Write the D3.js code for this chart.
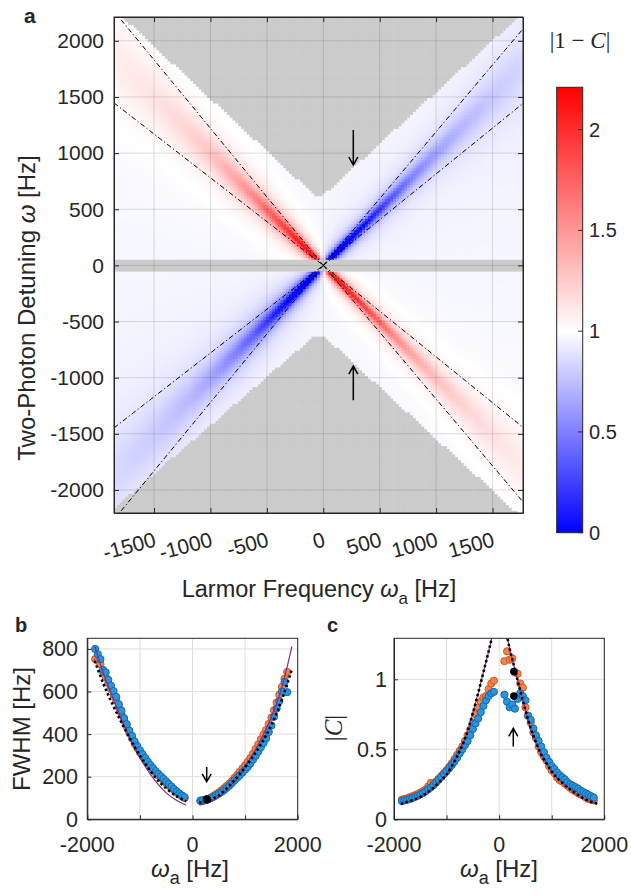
<!DOCTYPE html>
<html><head><meta charset="utf-8">
<script src="https://cdn.jsdelivr.net/npm/d3@7"></script>
<style>
body{margin:0;background:#fff}
svg{display:block}
text{font-family:"Liberation Sans",Arial,Helvetica,sans-serif;fill:#262626}
</style>
</head><body>
<svg id="chart" width="631" height="895"></svg>
<script>
// ================= DATA =================
// Panel a : heat map |1 - C| versus Larmor frequency and two-photon detuning
const larmorTicks   = [-1500,-1000,-500,0,500,1000,1500];
const detuningTicks = [-2000,-1500,-1000,-500,0,500,1000,1500,2000];
const colorbarTicks = [0,0.5,1,1.5,2];
const larmorDomain   = [-1855,1770];
const detuningDomain = [-2205,2212];
const colorDomain    = [0,1,2.21];
const cellStep = 25;                       // Hz per heat-map cell
// band profile (ω = -ωa red, ω = +ωa blue)
const heatKnotsLarmor = [-1855,-1500,-1200,-1000,-800,-600,-400,-300,-200,-100,0,100,200,300,400,600,800,1000,1200,1500,1770];
const heatRedAmp      = [0.12,0.17,0.24,0.32,0.45,0.63,0.9,1.05,1.2,1.3,1.4,1.3,1.2,1.07,0.92,0.65,0.46,0.34,0.26,0.18,0.13];
const heatBlueAmp     = [0.12,0.17,0.24,0.32,0.45,0.63,0.9,1.05,1.2,1.3,1.4,1.3,1.2,1.07,0.92,0.65,0.46,0.34,0.26,0.18,0.13];
const heatWidth       = [800,560,420,330,265,205,155,135,115,95,85,88,92,98,108,140,185,235,300,440,640];
const heatBackground  = 0.965;
// measured area (outside is grey)
const maskLarmor = [-1855,-74,0,1770];
const maskUpper  = [2284,625,628,2252];
const maskLower  = [-2160,-620,-620,-2248];
const gapBand    = [-55,50];
// dash-dot guide lines  ω = ±k ωa
const guideSlopesLeft  = [0.78,1.22];
const guideSlopesRight = [0.815,1.19];
// arrows  [larmor, tail, tip]
const arrowsA = [[266,1206,894],[266,-1200,-897]];

// Panel b : FWHM [Hz]
const bLarmorLeft  = [-1850,-1800,-1750,-1700,-1650,-1600,-1550,-1500,-1450,-1400,-1350,-1300,-1250,-1200,-1150,-1100,-1050,-1000,-950,-900,-850,-800,-750,-700,-650,-600,-550,-500,-450,-400,-350,-300,-250,-200,-150];
const bBlueLeft    = [800,775,752,702,690,655,628,602,575,540,510,475,447,416,392,366,344,324,306,288,271,255,240,226,214,202,190,178,166,154,142,131,121,112,104];
const bOrangeLeft  = [752,745,728,690,668,640,612,585,558,525,495,462,435,405,380,355,334,314,296,278,262,247,232,218,206,194,182,170,158,147,136,126,116,108,100];
const bLarmorRight = [150,200,250,300,350,400,450,500,550,600,650,700,750,800,850,900,950,1000,1050,1100,1150,1200,1250,1300,1350,1400,1450,1500,1550,1600,1650,1700,1750,1800];
const bBlueRight   = [88,90,92,95,100,106,113,120,128,137,147,158,170,183,195,207,220,233,246,262,280,298,318,338,358,380,410,440,482,520,555,600,645,597];
const bOrangeRight = [86,88,92,96,102,110,118,126,136,146,157,168,181,195,209,224,239,254,270,288,308,330,352,376,398,420,448,478,512,548,585,622,660,692];
const bHighlightLarmor = [270,280];
const bHighlightFWHM   = [95,92];
const bTheoryLarmorLeft  = [-1860,-1700,-1500,-1300,-1100,-900,-700,-500,-300,-120];
const bDottedLeft        = [745,640,530,430,340,262,195,145,108,85];
const bPurpleLeft        = [815,690,560,440,335,248,178,124,88,66];
const bTheoryLarmorRight = [130,300,500,700,900,1100,1300,1500,1700,1890];
const bDottedRight       = [78,88,113,158,213,278,352,442,562,705];
const bPurpleRight       = [66,78,105,150,210,285,375,480,620,812];
const bArrow = [270,246,176];

// Panel c : |C|
const cLarmorLeft  = [-1850,-1800,-1750,-1700,-1650,-1600,-1550,-1500,-1450,-1400,-1350,-1300,-1250,-1200,-1150,-1100,-1050,-1000,-950,-900,-850,-800,-750,-700,-650,-600,-550,-500,-450,-400,-350,-300,-250,-200,-150,-100];
const cBlueLeft    = [0.13,0.135,0.14,0.145,0.152,0.16,0.168,0.178,0.188,0.2,0.215,0.228,0.243,0.262,0.282,0.303,0.323,0.343,0.365,0.388,0.413,0.44,0.47,0.5,0.53,0.56,0.6,0.645,0.685,0.72,0.765,0.81,0.85,0.88,0.9,0.91];
const cOrangeLeft  = [0.14,0.145,0.15,0.158,0.165,0.172,0.18,0.19,0.2,0.212,0.235,0.26,0.255,0.27,0.29,0.31,0.33,0.35,0.375,0.4,0.43,0.46,0.49,0.52,0.56,0.6,0.64,0.69,0.75,0.8,0.84,0.87,0.88,0.93,0.97,0.99];
const cLarmorRight = [100,150,200,250,300,350,400,450,500,550,600,650,700,750,800,850,900,950,1000,1050,1100,1150,1200,1250,1300,1350,1400,1450,1500,1550,1600,1650,1700,1750,1800];
const cOrangeRight = [1.13,1.2,1.14,1.15,1.05,1.04,0.97,0.94,0.8,0.74,0.69,0.62,0.58,0.52,0.48,0.45,0.42,0.38,0.35,0.33,0.3,0.28,0.27,0.255,0.24,0.225,0.21,0.2,0.188,0.178,0.168,0.155,0.145,0.14,0.135];
const cBlueRight   = [0.89,0.84,0.8,0.82,0.79,0.86,0.9,0.88,0.85,0.74,0.71,0.65,0.6,0.56,0.52,0.48,0.44,0.41,0.38,0.36,0.335,0.315,0.3,0.285,0.265,0.25,0.24,0.23,0.22,0.205,0.195,0.185,0.175,0.165,0.155];
const cHighlightLarmor = [280,280];
const cHighlightC      = [1.055,0.88];
const cTheoryLarmorLeft  = [-1870,-1700,-1500,-1300,-1100,-1000,-900,-800,-700,-600,-500,-400,-300,-200,-100];
const cTheoryLeft        = [0.11,0.13,0.16,0.21,0.28,0.32,0.38,0.45,0.53,0.63,0.76,0.9,1.05,1.2,1.36];
const cTheoryLarmorRight = [120,200,300,400,500,600,700,800,900,1000,1200,1400,1600,1870];
const cTheoryRight       = [1.36,1.22,1.07,0.92,0.78,0.65,0.55,0.46,0.4,0.34,0.26,0.2,0.15,0.11];
const cArrow = [269,0.52,0.65];

const bcXTicks = [-2000,-1000,0,1000,2000];
const bcXLabels = [-2000,0,2000];
const bYTicks = [0,200,400,600,800];
const cYTicks = [0,0.5,1];

// ================= DRAW =================
const svg = d3.select("#chart");
const AX = "#262626";
const fmt = d => String(d);

// ---------- panel a ----------
const xA = d3.scaleLinear().domain(larmorDomain).range([114,523]);
const yA = d3.scaleLinear().domain(detuningDomain).range([513,17]);
const color = d3.scaleLinear().domain(colorDomain).range(["#0000ff","#ffffff","#ff0000"]).clamp(true);
const redAmp  = d3.scaleLinear().domain(heatKnotsLarmor).range(heatRedAmp);
const blueAmp = d3.scaleLinear().domain(heatKnotsLarmor).range(heatBlueAmp);
const bandW   = d3.scaleLinear().domain(heatKnotsLarmor).range(heatWidth);
const upper = d3.scaleLinear().domain(maskLarmor).range(maskUpper);
const lower = d3.scaleLinear().domain(maskLarmor).range(maskLower);
const lor = (d,w) => 1/(1+Math.pow(2*d/w,2));

svg.append("defs").append("clipPath").attr("id","clipA")
  .append("rect").attr("x",114).attr("y",17).attr("width",409).attr("height",496);

const cellA = d3.range(larmorDomain[0]+cellStep/2, larmorDomain[1], cellStep);
const cellW = d3.range(detuningDomain[0]+cellStep/2, detuningDomain[1]+cellStep, cellStep);
const cells = [];
cellA.forEach(a => cellW.forEach(w => {
  let v = null;
  if (w <= upper(a) && w >= lower(a)) {
    const wd = bandW(a);
    v = heatBackground + redAmp(a)*lor(w+a,wd) - blueAmp(a)*lor(w-a,wd);
  }
  cells.push({a,w,v});
}));
const gA = svg.append("g").attr("clip-path","url(#clipA)");
gA.selectAll("rect.cell").data(cells).join("rect").attr("class","cell")
  .attr("x",d=>xA(d.a-cellStep/2))
  .attr("y",d=>yA(d.w+cellStep/2))
  .attr("width",d=>xA(d.a+cellStep/2)-xA(d.a-cellStep/2)+0.5)
  .attr("height",d=>yA(d.w-cellStep/2)-yA(d.w+cellStep/2)+0.5)
  .attr("fill",d=>d.v===null?"#cbcbcb":color(d.v));
gA.append("rect").attr("x",114).attr("width",409)
  .attr("y",yA(gapBand[1])).attr("height",yA(gapBand[0])-yA(gapBand[1])).attr("fill","#cbcbcb");

// grid
gA.selectAll("line.gx").data(larmorTicks).join("line").attr("class","gx")
  .attr("x1",d=>xA(d)).attr("x2",d=>xA(d)).attr("y1",17).attr("y2",513)
  .attr("stroke","#000").attr("stroke-opacity",0.13);
gA.selectAll("line.gy").data(detuningTicks).join("line").attr("class","gy")
  .attr("y1",d=>yA(d)).attr("y2",d=>yA(d)).attr("x1",114).attr("x2",523)
  .attr("stroke","#000").attr("stroke-opacity",0.13);

// guide lines
const guides = [];
guideSlopesLeft.forEach(k => { guides.push([[larmorDomain[0], -k*larmorDomain[0]],[0,0]]); guides.push([[larmorDomain[0], k*larmorDomain[0]],[0,0]]); });
guideSlopesRight.forEach(k => { guides.push([[0,0],[larmorDomain[1], k*larmorDomain[1]]]); guides.push([[0,0],[larmorDomain[1], -k*larmorDomain[1]]]); });
const lineA = d3.line().x(d=>xA(d[0])).y(d=>yA(d[1]));
gA.selectAll("path.guide").data(guides).join("path").attr("class","guide")
  .attr("d",lineA).attr("fill","none").attr("stroke","#000").attr("stroke-width",1)
  .attr("stroke-dasharray","5,2.5,1.2,2.5");

// arrows
function arrow(g, x, y1, y2) {
  const dir = Math.sign(y2-y1);
  g.append("path").attr("d",`M${x},${y1}L${x},${y2}M${x-4.5},${y2-dir*8}L${x},${y2}L${x+4.5},${y2-dir*8}`)
   .attr("fill","none").attr("stroke","#000").attr("stroke-width",1.5);
}
arrowsA.forEach(d => arrow(svg, xA(d[0]), yA(d[1]), yA(d[2])));

// axes a
svg.append("g").attr("transform","translate(0,513)")
  .call(d3.axisBottom(xA).tickValues(larmorTicks).tickSize(-5).tickSizeOuter(0).tickFormat(""));
svg.append("g").attr("transform","translate(0,17)")
  .call(d3.axisTop(xA).tickValues(larmorTicks).tickSize(-5).tickSizeOuter(0).tickFormat(""));
svg.append("g").attr("transform","translate(114,0)")
  .call(d3.axisLeft(yA).tickValues(detuningTicks).tickSize(-5).tickSizeOuter(0).tickFormat(""));
svg.append("g").attr("transform","translate(523,0)")
  .call(d3.axisRight(yA).tickValues(detuningTicks).tickSize(-5).tickSizeOuter(0).tickFormat(""));
svg.selectAll(".domain").attr("stroke",AX);
svg.selectAll(".tick line").attr("stroke",AX);
svg.append("rect").attr("x",114).attr("y",17).attr("width",409).attr("height",496)
  .attr("fill","none").attr("stroke",AX).attr("stroke-width",1);

svg.selectAll("text.ylA").data(detuningTicks).join("text").attr("class","ylA")
  .attr("x",104).attr("y",d=>yA(d)).attr("dy","0.35em").attr("text-anchor","end")
  .attr("font-size",21).text(fmt);
svg.selectAll("text.xlA").data(larmorTicks).join("text").attr("class","xlA")
  .attr("transform",d=>`translate(${xA(d)+3},546) rotate(-15)`).attr("text-anchor","end")
  .attr("font-size",21).text(fmt);

const ylab = svg.append("text").attr("transform","translate(35,308) rotate(-90)")
  .attr("text-anchor","middle").attr("font-size",24);
ylab.append("tspan").text("Two-Photon Detuning ");
ylab.append("tspan").attr("font-style","italic").text("ω");
ylab.append("tspan").text(" [Hz]");
const xlab = svg.append("text").attr("x",319).attr("y",597).attr("text-anchor","middle").attr("font-size",23.5);
xlab.append("tspan").text("Larmor Frequency ");
xlab.append("tspan").attr("font-style","italic").text("ω");
xlab.append("tspan").attr("dy",7).attr("font-size",17).text("a");
xlab.append("tspan").attr("dy",-7).text(" [Hz]");
svg.append("text").attr("x",24).attr("y",23).attr("font-size",21).attr("font-weight","bold").attr("fill","#000").text("a");

// colorbar
const cbY = d3.scaleLinear().domain([colorDomain[0],colorDomain[2]]).range([532.7,87.3]);
const grad = svg.select("defs").append("linearGradient").attr("id","cbgrad")
  .attr("x1",0).attr("y1",1).attr("x2",0).attr("y2",0);
grad.selectAll("stop").data(colorDomain).join("stop")
  .attr("offset",d=>(d-colorDomain[0])/(colorDomain[2]-colorDomain[0]))
  .attr("stop-color",d=>color(d));
svg.append("rect").attr("x",556.7).attr("y",87.3).attr("width",26).attr("height",445.4)
  .attr("fill","url(#cbgrad)").attr("stroke",AX).attr("stroke-width",1);
svg.selectAll("line.cbt").data(colorbarTicks).join("line").attr("class","cbt")
  .attr("x1",582.7).attr("x2",578.2).attr("y1",d=>cbY(d)).attr("y2",d=>cbY(d)).attr("stroke",AX);
svg.selectAll("text.cbl").data(colorbarTicks).join("text").attr("class","cbl")
  .attr("x",589).attr("y",d=>cbY(d)).attr("dy","0.35em").attr("font-size",20).text(fmt);
const cbt = svg.append("text").attr("x",580).attr("y",48).attr("text-anchor","middle")
  .attr("font-size",23).style("font-family",'"Liberation Serif","DejaVu Serif",serif');
cbt.append("tspan").text("|1 − ");
cbt.append("tspan").attr("font-style","italic").text("C");
cbt.append("tspan").text("|");

// ---------- panels b and c ----------
function panel(opts) {
  const {x, y, xTicks, yTicks, clip} = opts;
  const [x0,x1] = x.range(), [y1,y0] = y.range();
  const g = svg.append("g");
  svg.select("defs").append("clipPath").attr("id",clip)
    .append("rect").attr("x",x0).attr("y",y0).attr("width",x1-x0).attr("height",y1-y0);
  g.selectAll("line.gx").data(xTicks).join("line")
    .attr("x1",d=>x(d)).attr("x2",d=>x(d)).attr("y1",y0).attr("y2",y1).attr("stroke","#dedede");
  g.selectAll("line.gy").data(yTicks).join("line")
    .attr("y1",d=>y(d)).attr("y2",d=>y(d)).attr("x1",x0).attr("x2",x1).attr("stroke","#dedede");
  return g;
}
function frame(opts) {
  const {x, y, xTicks, yTicks, xLabels, yLabelX} = opts;
  const [x0,x1] = x.range(), [y1,y0] = y.range();
  svg.append("g").attr("transform",`translate(0,${y1})`)
    .call(d3.axisBottom(x).tickValues(xTicks).tickSize(-4).tickSizeOuter(0).tickFormat(""));
  svg.append("g").attr("transform",`translate(${x0},0)`)
    .call(d3.axisLeft(y).tickValues(yTicks).tickSize(-4).tickSizeOuter(0).tickFormat(""));
  svg.selectAll(".domain").attr("stroke",AX);
  svg.selectAll(".tick line").attr("stroke",AX);
  svg.append("rect").attr("x",x0).attr("y",y0).attr("width",x1-x0).attr("height",y1-y0)
    .attr("fill","none").attr("stroke",AX);
  svg.append("g").selectAll("text").data(xLabels).join("text")
    .attr("x",d=>x(d)).attr("y",852).attr("text-anchor","middle").attr("font-size",21.5).text(fmt);
  svg.append("g").selectAll("text").data(yTicks).join("text")
    .attr("x",yLabelX).attr("y",d=>y(d)).attr("dy","0.35em").attr("text-anchor","end").attr("font-size",21.5).text(fmt);
}
function wLabel(cx) {
  const t = svg.append("text").attr("x",cx).attr("y",877).attr("text-anchor","middle").attr("font-size",24);
  t.append("tspan").attr("font-style","italic").text("ω");
  t.append("tspan").attr("dy",7).attr("font-size",18).text("a");
  t.append("tspan").attr("dy",-7).text(" [Hz]");
}
const zip = (xs, ys) => xs.map((v,i)=>[v,ys[i]]);
const ORF="#ee8550", ORS="#d95319", BLF="#2e93d8", BLS="#0b6db3", PUR="#7e2f8e";

function drawSeries(g, x, y, clip, theory, orange, blue, hi) {
  const line = d3.line().x(d=>x(d[0])).y(d=>y(d[1])).curve(d3.curveMonotoneX);
  const gc = g.append("g").attr("clip-path",`url(#${clip})`);
  gc.selectAll("circle.or").data(orange).join("circle").attr("class","or")
    .attr("cx",d=>x(d[0])).attr("cy",d=>y(d[1])).attr("r",3.6)
    .attr("fill",ORF).attr("stroke",ORS).attr("stroke-width",1);
  gc.selectAll("circle.bl").data(blue).join("circle").attr("class","bl")
    .attr("cx",d=>x(d[0])).attr("cy",d=>y(d[1])).attr("r",3.6)
    .attr("fill",BLF).attr("stroke",BLS).attr("stroke-width",1);
  theory.purple.forEach(s => gc.append("path").attr("d",line(s)).attr("fill","none").attr("stroke",PUR).attr("stroke-width",1.2));
  theory.dotted.forEach(s => gc.append("path").attr("d",line(s)).attr("fill","none").attr("stroke","#000").attr("stroke-width",2.6).attr("stroke-dasharray","2.4,2.6"));
  gc.selectAll("circle.hi").data(hi).join("circle").attr("class","hi")
    .attr("cx",d=>x(d[0])).attr("cy",d=>y(d[1])).attr("r",3.8).attr("fill","#000");
}

// panel b
const xB = d3.scaleLinear().domain([-2000,2000]).range([87.3,297.7]);
const yB = d3.scaleLinear().domain([0,850]).range([819.3,638.3]);
const optB = {x:xB, y:yB, xTicks:bcXTicks, yTicks:bYTicks, clip:"clipB", xLabels:bcXLabels, yLabelX:78};
const gB = panel(optB);
drawSeries(gB, xB, yB, "clipB",
  {purple:[zip(bTheoryLarmorLeft,bPurpleLeft), zip(bTheoryLarmorRight,bPurpleRight)],
   dotted:[zip(bTheoryLarmorLeft,bDottedLeft), zip(bTheoryLarmorRight,bDottedRight)]},
  zip(bLarmorLeft,bOrangeLeft).concat(zip(bLarmorRight,bOrangeRight)),
  zip(bLarmorLeft,bBlueLeft).concat(zip(bLarmorRight,bBlueRight)),
  zip(bHighlightLarmor,bHighlightFWHM));
frame(optB);
arrow(svg, xB(bArrow[0]), yB(bArrow[1]), yB(bArrow[2]));
svg.append("text").attr("transform","translate(30,729) rotate(-90)").attr("text-anchor","middle").attr("font-size",24).text("FWHM [Hz]");
wLabel(190);
svg.append("text").attr("x",15).attr("y",632).attr("font-size",20).attr("font-weight","bold").attr("fill","#000").text("b");

// panel c
const xC = d3.scaleLinear().domain([-2000,2000]).range([394,604.3]);
const yC = d3.scaleLinear().domain([0,1.293]).range([819.3,638.3]);
const optC = {x:xC, y:yC, xTicks:bcXTicks, yTicks:cYTicks, clip:"clipC", xLabels:bcXLabels, yLabelX:387};
const gC = panel(optC);
drawSeries(gC, xC, yC, "clipC",
  {purple:[zip(cTheoryLarmorLeft,cTheoryLeft), zip(cTheoryLarmorRight,cTheoryRight)],
   dotted:[zip(cTheoryLarmorLeft,cTheoryLeft), zip(cTheoryLarmorRight,cTheoryRight)]},
  zip(cLarmorLeft,cOrangeLeft).concat(zip(cLarmorRight,cOrangeRight)),
  zip(cLarmorLeft,cBlueLeft).concat(zip(cLarmorRight,cBlueRight)),
  zip(cHighlightLarmor,cHighlightC));
frame(optC);
arrow(svg, xC(cArrow[0]), yC(cArrow[1]), yC(cArrow[2]));
const ylc = svg.append("text").attr("transform","translate(342,728) rotate(-90)").attr("text-anchor","middle")
  .attr("font-size",25).style("font-family",'"Liberation Serif","DejaVu Serif",serif');
ylc.append("tspan").text("|");
ylc.append("tspan").attr("font-style","italic").text("C");
ylc.append("tspan").text("|");
wLabel(499);
svg.append("text").attr("x",327).attr("y",632).attr("font-size",20).attr("font-weight","bold").attr("fill","#000").text("c");
</script>
</body></html>
